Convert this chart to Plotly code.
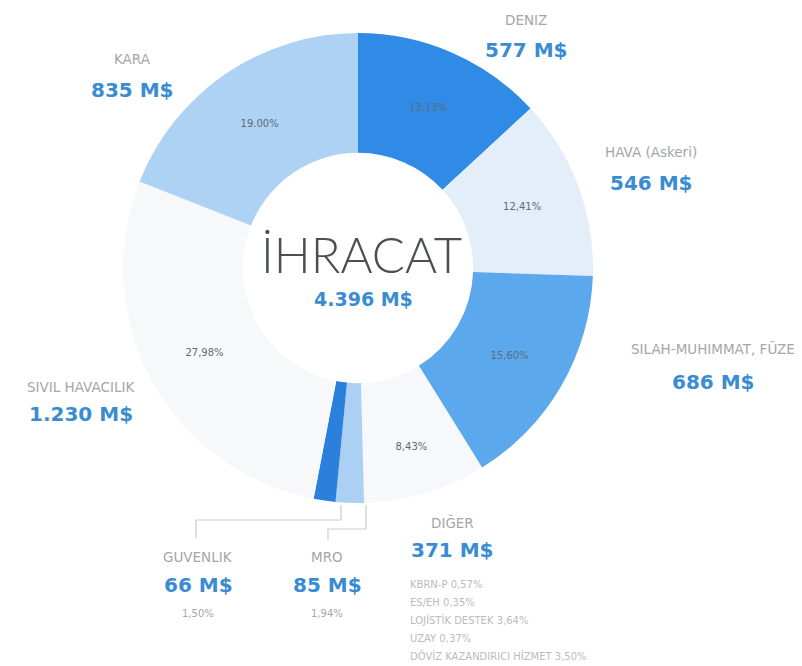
import plotly.graph_objects as go

W, H = 802, 666

# slices, clockwise from 12 o'clock
sectors = ["DENIZ", "HAVA (Askeri)", "SILAH-MUHIMMAT, FÜZE", "DIĞER",
           "MRO", "GUVENLIK", "SIVIL HAVACILIK", "KARA"]
values = [577, 546, 686, 371, 85, 66, 1230, 835]
shares = ["13,13%", "12,41%", "15,60%", "8,43%", "1,94%", "1,50%", "27,98%", "19.00%"]
value_labels = ["577 M$", "546 M$", "686 M$", "371 M$", "85 M$", "66 M$", "1.230 M$", "835 M$"]
slice_colors = ["#2f8be6", "#e4eef9", "#5ba8ec", "#f6f8fb",
                "#abd0f3", "#2a80da", "#f7f8fa", "#add2f3"]
inside_text = [s if v > 100 else "" for s, v in zip(shares, values)]

total_label = "4.396 M$"
diger_items = ["KBRN-P 0,57%", "ES/EH 0,35%", "LOJİSTİK DESTEK 3,64%",
               "UZAY 0,37%", "DÖVİZ KAZANDIRICI HİZMET 3,50%"]

NAME_C = "#a3a6aa"
VAL_C = "#3a8cd2"
FONT = "DejaVu Sans"


def px(x):
    return x / W


def py(y):
    return 1 - y / H


fig = go.Figure()

# ring: centre (350, 260), radius 235 px
fig.add_trace(go.Pie(
    labels=sectors,
    values=values,
    text=inside_text,
    textinfo="text",
    textposition="inside",
    insidetextorientation="horizontal",
    textfont=dict(family=FONT, size=10, color="#5e6b79"),
    marker=dict(colors=slice_colors, line=dict(width=0)),
    hole=0.49,
    sort=False,
    direction="clockwise",
    rotation=0,
    domain=dict(x=[px(115), px(585)], y=[py(495), py(25)]),
    showlegend=False,
    hoverinfo="label+value+text",
))

ann = []


def label(x, y, name, val, gap=30, extra=None):
    ann.append(dict(x=px(x), y=py(y), text=name, showarrow=False, xanchor="center", yanchor="middle",
                    font=dict(family=FONT, size=13.5, color=NAME_C)))
    ann.append(dict(x=px(x), y=py(y + gap), text="<b>" + val + "</b>", showarrow=False,
                    xanchor="center", yanchor="middle",
                    font=dict(family=FONT, size=20, color=VAL_C)))
    if extra:
        ann.append(dict(x=px(x), y=py(y + 56), text=extra, showarrow=False, xanchor="center",
                        yanchor="middle", font=dict(family=FONT, size=10, color=NAME_C)))


label(518, 12, sectors[0], value_labels[0])
label(643, 144, sectors[1], value_labels[1], gap=31)
label(705, 341, sectors[2], value_labels[2], gap=33)
label(444, 514, sectors[3], value_labels[3], gap=28)
label(319, 549, sectors[4], value_labels[4], gap=28, extra=shares[4])
label(190, 549, sectors[5], value_labels[5], gap=28, extra=shares[5])
label(73, 379, sectors[6], value_labels[6], gap=27)
label(124, 51, sectors[7], value_labels[7], gap=31)

for i, item in enumerate(diger_items):
    ann.append(dict(x=px(400), y=py(576 + i * 18), text=item, showarrow=False,
                    xanchor="left", yanchor="middle",
                    font=dict(family=FONT, size=10, color="#b9bcc0")))

ann.append(dict(x=px(353), y=py(246), text="İHRACAT", showarrow=False,
                xanchor="center", yanchor="middle",
                font=dict(family="Lato", size=49, color="#4a4f55", weight=300)))
ann.append(dict(x=px(355), y=py(291), text="<b>" + total_label + "</b>", showarrow=False,
                xanchor="center", yanchor="middle",
                font=dict(family=FONT, size=19, color=VAL_C)))

line_style = dict(color="#c9ccd0", width=1.2)
shapes = [
    # GUVENLIK connector
    dict(type="path", xref="paper", yref="paper", line=line_style,
         path=f"M {px(188)} {py(530)} L {px(188)} {py(512)} L {px(333)} {py(512)} L {px(333)} {py(497)}"),
    # MRO connector
    dict(type="path", xref="paper", yref="paper", line=line_style,
         path=f"M {px(320)} {py(532)} L {px(320)} {py(521)} L {px(358)} {py(521)} L {px(358)} {py(497)}"),
]

fig.update_layout(
    width=W, height=H,
    margin=dict(l=0, r=0, t=0, b=0),
    paper_bgcolor="white",
    plot_bgcolor="white",
    annotations=ann,
    shapes=shapes,
)

fig.write_html("out.html")
